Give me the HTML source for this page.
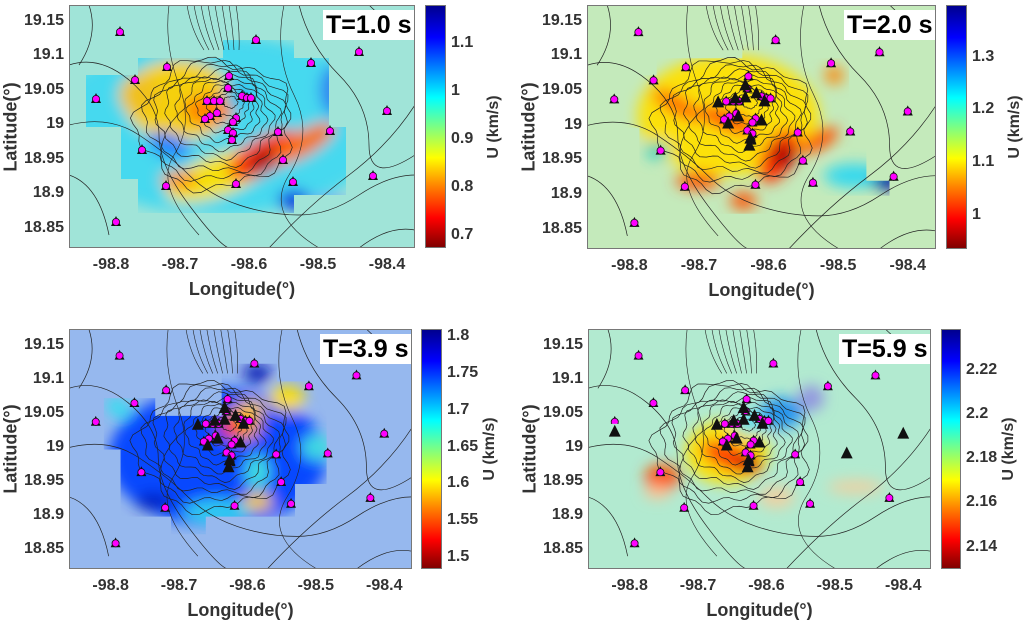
<!DOCTYPE html>
<html><head><meta charset="utf-8">
<style>
body{margin:0;background:#fff;width:1024px;height:619px;overflow:hidden;position:relative;font-family:"Liberation Sans",sans-serif;}
.t{position:absolute;font-weight:bold;color:#333;font-size:15px;white-space:nowrap;}
svg{position:absolute;}
</style></head><body>
<div id="root"></div>
<script>
const W=346,H=243;
const st=[[51,27],[187,35],[290,47],[242,58],[98,62],[66,75],[27,94],[318,106],[209,127],[261,126],[73,145],[214,155],[304,171],[97,181],[167,179],[224,177],[47,217]];
const cl=[[160,71],[159,83],[138,96],[145,96],[151,96],[173,91],[178,93],[182,93],[148,108],[141,111],[136,114],[167,113],[164,117],[159,125],[164,128],[163,135]];
const tri=[[130,97],[147,93],[157,92],[168,88],[176,96],[150,111],[140,118],[173,115],[162,133],[161,140],[157,80]];
function contours(){
 let s='';
 for(let i=1;i<=11;i++){
  let rx=i*7, ry=i*5.8, cx=163-i*1.5, cy=95+i*2.2;
  let pts=[];
  for(let a=0;a<=72;a++){let t=a/72*2*Math.PI;let w=1+0.07*Math.sin(5*t+i)+0.05*Math.sin(13*t+i*2);
   pts.push((cx+rx*w*Math.cos(t)).toFixed(1)+','+(cy+ry*w*Math.sin(t)).toFixed(1));}
  s+=`<polyline points="${pts.join(' ')}" fill="none" stroke="#222" stroke-width="0.7"/>`;
 }
 for(let i=0;i<8;i++){s+=`<path d="M${118+i*7},0 Q${122+i*7},25 ${135+i*5},45" fill="none" stroke="#222" stroke-width="0.6"/>`;}
 s+=`<path d="M0,120 Q40,110 70,130 T120,170 T170,200 T230,210 T290,190 T346,170" fill="none" stroke="#222" stroke-width="0.7"/>`;
 s+=`<path d="M0,60 Q30,50 60,75 T90,130 T120,200 T160,243" fill="none" stroke="#222" stroke-width="0.7"/>`;
 s+=`<path d="M200,243 Q240,200 280,170 T346,100" fill="none" stroke="#222" stroke-width="0.7"/>`;
 s+=`<path d="M230,0 Q240,40 270,70 T300,140 T346,150" fill="none" stroke="#222" stroke-width="0.7"/>`;
 s+=`<path d="M100,0 Q95,40 110,80 T105,150 T130,230" fill="none" stroke="#222" stroke-width="0.6"/>`;
 s+=`<path d="M215,0 Q205,50 225,90 T220,170 T250,243" fill="none" stroke="#222" stroke-width="0.6"/>`;
 s+=`<path d="M20,0 Q30,30 10,60 M0,170 Q30,180 40,230 M300,0 Q330,30 346,20 M290,243 Q320,220 346,225" fill="none" stroke="#222" stroke-width="0.7"/>`;
 return s;
}
function stations(extraTri){
 let s='';
 let all=st.concat(cl);
 for(const [x,y] of all){s+=`<polygon points="${x},${y-6} ${x-5},${y+4} ${x+5},${y+4}" fill="#111"/><circle cx="${x}" cy="${y}" r="3.6" fill="#f0f" stroke="#111" stroke-width="0.8"/>`;}
 if(extraTri)for(const [x,y] of tri){s+=`<polygon points="${x},${y-7} ${x-6},${y+5} ${x+6},${y+5}" fill="#111"/>`;}
 return s;
}
const P=[
 {px:69,py:5,w:346,h:243,cbx:425,cbw:21,bg:'#a0e4d8',title:'T=1.0 s',ticks:[[1.1,37.7],[1,85.8],[0.9,134],[0.8,182],[0.7,230]],tri:false,
  clip:"17,70 69,70 69,53 154,53 154,35 225,35 225,53 260,53 260,122 277,122 277,190 225,190 225,208 69,208 69,174 52,174 52,122 17,122",
  blobs:[['#40d8f0',150,120,170,90,0],['#ffd000',110,95,55,40,0],['#f0c020',70,90,20,20,0],['#ff8000',140,105,25,15,0],['#ffe000',150,170,55,20,-20],['#ff3000',195,150,40,17,-30],['#a00000',195,155,18,9,-30],['#ff7000',235,138,35,12,-30],['#ff9000',110,175,18,9,0],['#2080ff',100,140,22,12,20],['#3080f0',265,85,14,25,0],['#0030e0',225,195,16,10,0],['#2060f0',310,190,14,8,0],['#80a0f0',260,200,22,9,0],['#30c0f0',170,90,15,15,0]]},
 {px:587,py:5,w:349,h:244,cbx:946,cbw:21,bg:'#c4eabb',title:'T=2.0 s',ticks:[[1.3,51.7],[1.2,104],[1.1,157],[1,210]],tri:true,
  clip:"17,70 69,70 69,53 154,53 154,35 225,35 225,53 260,53 260,122 277,122 277,175 300,175 300,190 225,190 225,208 69,208 69,174 52,174 52,122 17,122",
  blobs:[['#ffe000',140,110,90,60,0],['#ff6000',90,100,28,9,30],['#ff4000',140,115,30,10,20],['#ff3000',190,150,30,16,-60],['#b00000',195,150,13,13,0],['#ff5000',230,135,22,9,-30],['#ff5000',110,175,22,9,0],['#ff5000',155,195,13,9,0],['#ff8000',245,70,9,9,0],['#30d8f0',265,170,30,12,0],['#0010a0',300,175,18,9,0],['#30d0c0',70,145,12,9,0]]},
 {px:69,py:329,w:343,h:240,cbx:421,cbw:21,bg:'#96b8ee',title:'T=3.9 s',ticks:[[1.8,7],[1.75,44],[1.7,81],[1.65,118],[1.6,154],[1.55,191],[1.5,228]],tri:true,
  clip:"35,70 87,70 87,88 154,88 154,35 210,35 210,53 260,53 260,157 228,157 228,190 138,190 138,208 103,208 103,190 52,190 52,122 35,122",
  blobs:[['#0040ff',150,130,110,70,0],['#30e0f0',50,80,14,9,30],['#30d0f0',150,185,35,13,0],['#ffd000',190,175,15,9,0],['#40e0e0',190,145,13,18,0],['#ffa000',175,95,18,18,0],['#ff2000',163,100,11,9,0],['#ffe000',220,70,18,13,0],['#ffd000',185,80,13,8,0],['#40e0e0',250,120,16,13,0],['#0010b0',190,45,14,9,0],['#0020c0',85,175,18,9,0]]},
 {px:588,py:329,w:343,h:240,cbx:941,cbw:20,bg:'#b2ead0',title:'T=5.9 s',ticks:[[2.22,41],[2.2,85],[2.18,129],[2.16,173],[2.14,218]],tri:true,extra:[[27,104],[318,106],[261,126]],
  clip:"0,0 346,0 346,243 0,243",
  blobs:[['#ffe000',140,125,42,32,0],['#ff3000',145,130,32,13,20],['#b00000',160,135,13,7,0],['#ff5000',75,150,18,13,0],['#ffc090',70,165,13,7,0],['#f0d0a0',190,170,18,11,0],['#2090f0',195,85,22,16,0],['#9090e0',225,70,13,13,0],['#60e0f0',163,95,16,12,0],['#f0d0a0',270,160,28,7,0]]}
];
let html='';
html+=`<svg width="0" height="0"><defs><filter id="bl" x="-50%" y="-50%" width="200%" height="200%"><feGaussianBlur stdDeviation="7"/></filter></defs></svg>`;
P.forEach((p,i)=>{
 let s=`<svg style="left:${p.px}px;top:${p.py}px" width="${p.w}" height="${p.h}" viewBox="0 0 ${W} ${H}" preserveAspectRatio="none">
 <defs><clipPath id="c${i}"><polygon points="${p.clip}"/></clipPath></defs>
 <rect width="${W}" height="${H}" fill="${p.bg}"/><g clip-path="url(#c${i})"><g filter="url(#bl)">`;
 for(const [c,x,y,rx,ry,r] of p.blobs)s+=`<ellipse cx="${x}" cy="${y}" rx="${rx}" ry="${ry}" fill="${c}" opacity="0.95" transform="rotate(${r} ${x} ${y})"/>`;
 s+=`</g></g>${contours()}${stations(p.tri)}`;
 if(p.extra)for(const [x,y] of p.extra)s+=`<rect x="${x-7}" y="${y-8}" width="14" height="14" fill="${p.bg}"/><polygon points="${x},${y-7} ${x-6},${y+5} ${x+6},${y+5}" fill="#111"/>`;
 s+=`<rect x="0.5" y="0.5" width="${W-1}" height="${H-1}" fill="none" stroke="#777" stroke-width="1"/></svg>`;
 html+=s;
 html+=`<div class="t" style="left:${p.px+p.w-92}px;top:${p.py+5}px;background:#fff;color:#000;font-size:25px;padding:0 3px;line-height:30px">${p.title}</div>`;
 html+=`<div style="position:absolute;left:${p.cbx}px;top:${p.py}px;width:${p.cbw}px;height:${p.h}px;background:linear-gradient(to top,#800000 0%,#f00 12%,#ff8000 25%,#ff0 37%,#0ff 62%,#00f 87%,#00008f 100%);border:1px solid #777;box-sizing:border-box"></div>`;
 for(const [v,y] of p.ticks)html+=`<div class="t" style="left:${p.cbx+p.cbw+5}px;top:${p.py+y-9}px;font-size:16px">${v}</div>`;
 html+=`<div class="t" style="left:${p.cbx+p.cbw+48}px;top:${p.py+p.h/2}px;font-size:16px;transform:translate(-50%,-50%) rotate(-90deg)">U (km/s)</div>`;
 const sy=p.h/243, sx=p.w/346;
 [['19.15',15.7],['19.1',50.2],['19.05',84.7],['19',119.2],['18.95',153.7],['18.9',188.2],['18.85',222.7]].forEach(([l,y])=>{
  html+=`<div class="t" style="right:${1024-p.px+5}px;top:${p.py+y*sy-9}px;font-size:16px">${l}</div>`;});
 [['-98.8',42],['-98.7',111],['-98.6',180],['-98.5',249],['-98.4',318]].forEach(([l,x])=>{
  html+=`<div class="t" style="left:${p.px+x*sx}px;top:${p.py+p.h+8}px;font-size:16px;transform:translateX(-50%)">${l}</div>`;});
 html+=`<div class="t" style="left:${p.px+p.w/2}px;top:${p.py+p.h+31}px;font-size:18px;transform:translateX(-50%)">Longitude(°)</div>`;
 html+=`<div class="t" style="left:${p.px-58}px;top:${p.py+p.h/2}px;font-size:18px;transform:translate(-50%,-50%) rotate(-90deg)">Latitude(°)</div>`;
});
document.getElementById('root').innerHTML=html;
</script>
</body></html>
